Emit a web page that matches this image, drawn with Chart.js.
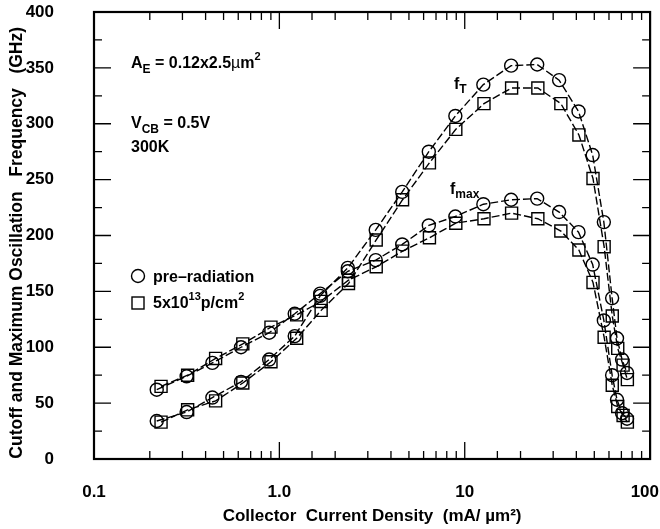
<!DOCTYPE html>
<html>
<head>
<meta charset="utf-8">
<script src="https://cdn.jsdelivr.net/npm/chart.js@4"></script>
<style>
  html, body { margin: 0; padding: 0; background: #fff; }
  #wrap { width: 660px; height: 529px; }
</style>
</head>
<body>
<div id="wrap"><canvas id="chart" width="660" height="529"></canvas></div>
<script>
// current density (mA/um^2), circles = pre-radiation, squares = 5x10^13 p/cm^2
const jPre = [0.218, 0.316, 0.435, 0.621, 0.881, 1.21, 1.66, 2.34, 3.31, 4.6, 6.4, 8.9, 12.6, 17.8, 24.6, 32.3, 41.1, 49.0, 56.3, 62.4, 66.3, 70.6, 75.1];
const jPost = [0.230, 0.320, 0.453, 0.635, 0.901, 1.24, 1.68, 2.36, 3.33, 4.62, 6.45, 8.95, 12.7, 17.9, 24.8, 33.0, 41.3, 49.2, 56.5, 62.5, 66.9, 71.5, 75.4];

const ftPre = [34, 42, 55, 69, 89, 110, 146, 171, 205, 239, 275, 307, 335, 352, 353, 339, 311, 272, 212, 144, 108, 89, 77];
const fmaxPre = [62, 74, 86, 100, 113, 130, 148, 168, 178, 192, 209, 217, 228, 232, 233, 221, 203, 174, 124, 75, 53, 41, 36];
const ftPost = [33, 44, 52, 68, 87, 108, 133, 157, 196, 232, 265, 295, 318, 332, 332, 318, 290, 251, 190, 128, 99, 84, 71];
const fmaxPost = [65, 75, 90, 103, 118, 129, 141, 160, 172, 186, 198, 211, 215, 220, 215, 204, 187, 158, 109, 66, 47, 39, 33];

const xTickValues = [0.1, 1, 10, 100];
const xTickLabels = ['0.1', '1.0', '10', '100'];
const yTicks = [0, 50, 100, 150, 200, 250, 300, 350, 400];

const FONT = 'Liberation Sans, Arial, Helvetica, sans-serif';

function pts(xs, ys) {
    return xs.map((x, i) => ({ x: x, y: ys[i] }));
}

function series(label, xs, ys, style) {
    return {
        label: label,
        data: pts(xs, ys),
        borderColor: '#000',
        borderWidth: 1.4,
        borderDash: [8, 3],
        pointStyle: style,
        pointRadius: style === 'rect' ? 8.5 : 6.5,
        pointBorderWidth: 1.4,
        pointBorderColor: '#000',
        pointBackgroundColor: 'rgba(0,0,0,0)',
        tension: 0
    };
}

// frame with inward ticks on all four sides, plus x tick labels
const framePlugin = {
    id: 'frame',
    afterDatasetsDraw(chart) {
        const ctx = chart.ctx;
        const a = chart.chartArea;
        const xs = chart.scales.x, ys = chart.scales.y;
        ctx.save();
        ctx.strokeStyle = '#000';
        ctx.lineWidth = 1.3;
        xs.ticks.forEach(t => {
            const px = xs.getPixelForValue(t.value);
            const lg = Math.log10(t.value);
            const len = Math.abs(lg - Math.round(lg)) < 1e-6 ? 17 : 8;
            ctx.beginPath();
            ctx.moveTo(px, a.bottom); ctx.lineTo(px, a.bottom - len);
            ctx.moveTo(px, a.top); ctx.lineTo(px, a.top + len);
            ctx.stroke();
        });
        yTicks.forEach(v => {
            [v, v + 25].forEach((w, k) => {
                if (w > 400) return;
                const py = ys.getPixelForValue(w);
                const len = k === 0 ? 17 : 8;
                ctx.beginPath();
                ctx.moveTo(a.left, py); ctx.lineTo(a.left + len, py);
                ctx.moveTo(a.right, py); ctx.lineTo(a.right - len, py);
                ctx.stroke();
            });
        });
        ctx.lineWidth = 2.2;
        ctx.strokeRect(a.left, a.top, a.right - a.left, a.bottom - a.top);

        ctx.fillStyle = '#000';
        ctx.font = 'bold 17px ' + FONT;
        ctx.textAlign = 'center';
        ctx.textBaseline = 'middle';
        xTickValues.forEach((v, i) => {
            const w = ctx.measureText(xTickLabels[i]).width;
            let px = xs.getPixelForValue(v);
            px = Math.min(px, chart.width - 1 - w / 2);
            ctx.fillText(xTickLabels[i], px, a.bottom + 33);
        });
        ctx.restore();
    }
};

function runs(ctx, x, y, parts) {
    parts.forEach(p => {
        ctx.font = (p.normal ? '' : 'bold ') + p.size + 'px ' + FONT;
        ctx.fillText(p.t, x, y + (p.dy || 0));
        x += ctx.measureText(p.t).width;
    });
    return x;
}

const textPlugin = {
    id: 'notes',
    afterDraw(chart) {
        const ctx = chart.ctx;
        ctx.save();
        ctx.fillStyle = '#000';
        ctx.textBaseline = 'alphabetic';
        ctx.textAlign = 'left';
        runs(ctx, 131, 68, [
            { t: 'A', size: 16 }, { t: 'E', size: 12, dy: 5 },
            { t: ' = 0.12x2.5', size: 16 }, { t: 'µ', size: 16, normal: true },
            { t: 'm', size: 16 }, { t: '2', size: 11, dy: -8 }
        ]);
        runs(ctx, 131, 128, [
            { t: 'V', size: 16 }, { t: 'CB', size: 12, dy: 5 }, { t: ' = 0.5V', size: 16 }
        ]);
        runs(ctx, 131, 152, [{ t: '300K', size: 16 }]);
        runs(ctx, 454, 89, [{ t: 'f', size: 16 }, { t: 'T', size: 12, dy: 4 }]);
        runs(ctx, 450, 194, [{ t: 'f', size: 16 }, { t: 'max', size: 12, dy: 4 }]);

        // legend
        ctx.strokeStyle = '#000';
        ctx.lineWidth = 1.4;
        ctx.beginPath();
        ctx.arc(138, 276, 6.5, 0, Math.PI * 2);
        ctx.stroke();
        ctx.strokeRect(132, 297, 12, 12);
        runs(ctx, 153, 282, [{ t: 'pre\u2013radiation', size: 16 }]);
        runs(ctx, 153, 308, [
            { t: '5x10', size: 16 }, { t: '13', size: 11, dy: -8 },
            { t: 'p/cm', size: 16 }, { t: '2', size: 11, dy: -8 }
        ]);
        ctx.restore();
    }
};

const chart = new Chart(document.getElementById('chart').getContext('2d'), {
    type: 'line',
    data: {
        datasets: [
            series('fT pre-radiation', jPre, ftPre, 'circle'),
            series('fT 5x10^13', jPost, ftPost, 'rect'),
            series('fmax pre-radiation', jPre, fmaxPre, 'circle'),
            series('fmax 5x10^13', jPost, fmaxPost, 'rect')
        ]
    },
    options: {
        responsive: false,
        animation: false,
        layout: { padding: { top: 0, left: 0, bottom: 0, right: 7 } },
        plugins: {
            legend: { display: false },
            tooltip: { enabled: false }
        },
        scales: {
            x: {
                type: 'logarithmic',
                min: 0.1,
                max: 100,
                grid: { display: false },
                border: { display: false },
                afterFit: s => {
                    s.height = 70;
                    s.paddingLeft = 0;
                    s.paddingRight = 0;
                },
                ticks: { display: false },
                title: {
                    display: true,
                    text: 'Collector  Current Density  (mA/ µm²)',
                    color: '#000',
                    font: { family: FONT, size: 17, weight: 'bold' },
                    padding: { top: 0, bottom: 2 }
                }
            },
            y: {
                min: 0,
                max: 400,
                grid: { display: false },
                border: { display: false },
                afterFit: s => {
                    s.width = 94;
                    s.paddingTop = 12;
                    s.paddingBottom = 0;
                },
                afterBuildTicks: s => { s.ticks = yTicks.map(v => ({ value: v })); },
                ticks: {
                    padding: 32,
                    color: '#000',
                    font: { family: FONT, size: 17, weight: 'bold' }
                },
                title: {
                    display: true,
                    text: 'Cutoff and Maximum Oscillation   Frequency   (GHz)   ',
                    color: '#000',
                    font: { family: FONT, size: 17.5, weight: 'bold' },
                    padding: { top: 7, bottom: 0 }
                }
            }
        }
    },
    plugins: [framePlugin, textPlugin]
});
</script>
</body>
</html>
